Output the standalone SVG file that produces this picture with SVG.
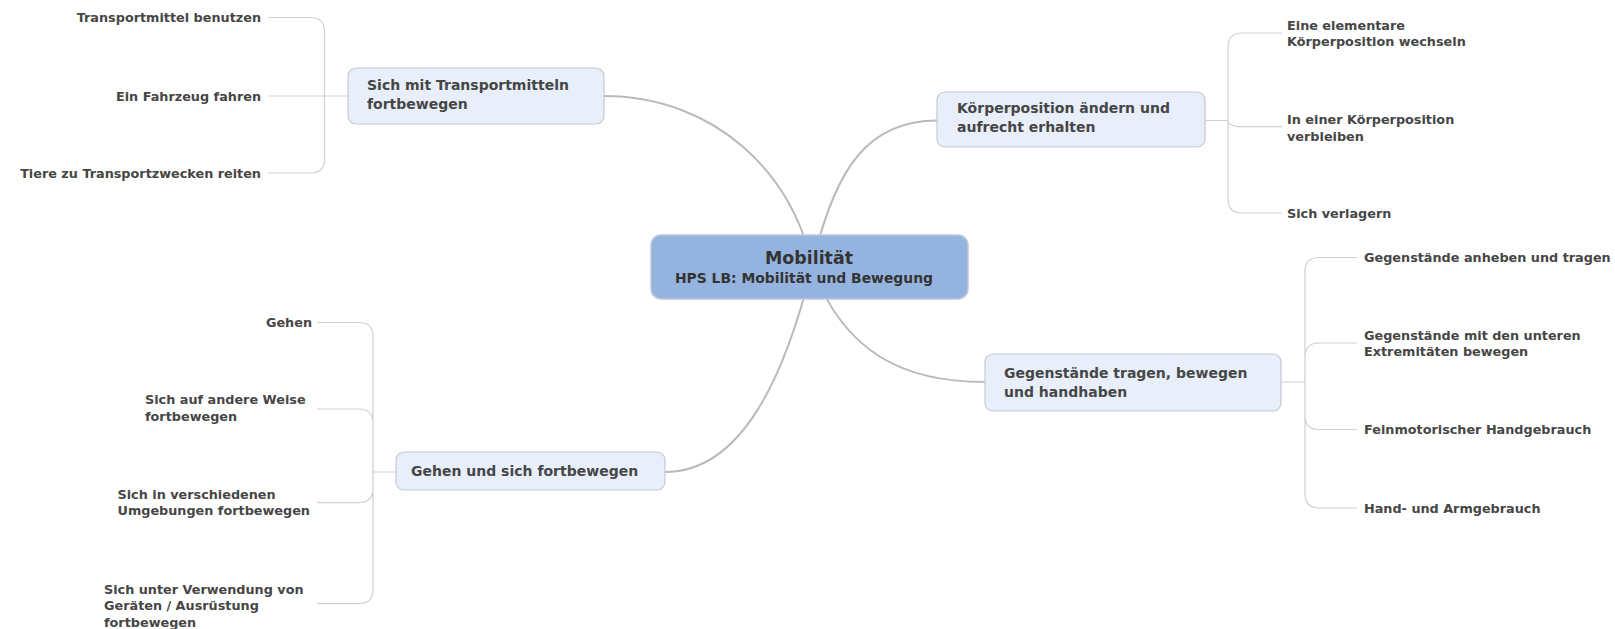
<svg xmlns="http://www.w3.org/2000/svg" width="1615" height="629" viewBox="0 0 1615 629">
<style>
text{font-family:"DejaVu Sans","Liberation Sans",sans-serif;font-weight:bold;fill:#464646;}
.sub{font-size:12.8px;}
.topic{font-size:14px;}
.r{text-anchor:end;}
.main{fill:none;stroke:#bababa;stroke-width:2;}
.br{fill:none;stroke:#d0d0d0;stroke-width:1.2;}
.tb{fill:#e8effb;stroke:#c3c9d3;stroke-width:1.2;}
.cb{fill:#95b3df;stroke:#bcc8da;stroke-width:1.5;}
</style>
<rect width="1615" height="629" fill="#fff"/>
<g id="connectors">
<path class="main" d="M812,267 C795,175 715,96 604,96"/>
<path class="main" d="M812,267 C835,165 870,120.5 937,120.5"/>
<path class="main" d="M812,267 C845,355 906,382 985,382"/>
<path class="main" d="M812,267 C785,376 742,472 665,472"/>
<path class="br" d="M348,96 H324.5 M324.5,96 V31.5 Q324.5,17.5 310.5,17.5 H268 M324.5,96 H268 M324.5,96 V159 Q324.5,173 310.5,173 H268"/>
<path class="br" d="M1205,120.5 H1228 M1228,120.5 V47 Q1228,33 1242,33 H1282 M1228,120.5 Q1228,126.7 1242,126.7 H1282 M1228,120.5 V199 Q1228,213 1242,213 H1282"/>
<path class="br" d="M1281,382 H1305 M1305,382 V271.5 Q1305,257.5 1319,257.5 H1357 M1305,382 V357 Q1305,343 1319,343 H1357 M1305,382 V415.5 Q1305,429.5 1319,429.5 H1357 M1305,382 V494 Q1305,508 1319,508 H1357"/>
<path class="br" d="M396,472 H373 M373,472 V336.5 Q373,322.5 359,322.5 H317 M373,472 V423 Q373,409 359,409 H317 M373,472 V488.6 Q373,502.6 359,502.6 H317 M373,472 V589.6 Q373,603.6 359,603.6 H317"/>
</g>
<g id="center">
<rect class="cb" x="651" y="235" width="317" height="64" rx="10"/>
<text x="809" y="264" text-anchor="middle" style="font-size:17.4px;fill:#333">Mobilität</text>
<text x="804" y="283" text-anchor="middle" style="font-size:13.9px;fill:#333">HPS LB: Mobilität und Bewegung</text>
</g>
<g id="t1">
<rect class="tb" x="348" y="68" width="256" height="56" rx="8"/>
<text class="topic" x="367" y="90">Sich mit Transportmitteln</text>
<text class="topic" x="367" y="109">fortbewegen</text>
</g>
<g id="t2">
<rect class="tb" x="937" y="92" width="268" height="55" rx="8"/>
<text class="topic" x="957" y="113">Körperposition ändern und</text>
<text class="topic" x="957" y="132">aufrecht erhalten</text>
</g>
<g id="t3">
<rect class="tb" x="985" y="354" width="296" height="57" rx="8"/>
<text class="topic" x="1004" y="378">Gegenstände tragen, bewegen</text>
<text class="topic" x="1004" y="397">und handhaben</text>
</g>
<g id="t4">
<rect class="tb" x="396" y="452" width="269" height="38" rx="8"/>
<text class="topic" x="411" y="476">Gehen und sich fortbewegen</text>
</g>
<g id="s1a"><text class="sub r" x="261" y="22">Transportmittel benutzen</text></g>
<g id="s1b"><text class="sub r" x="261" y="100.5">Ein Fahrzeug fahren</text></g>
<g id="s1c"><text class="sub r" x="261" y="177.5">Tiere zu Transportzwecken reiten</text></g>
<g id="s2a"><text class="sub" x="1287" y="29.5">Eine elementare</text><text class="sub" x="1287" y="46">Körperposition wechseln</text></g>
<g id="s2b"><text class="sub" x="1287" y="124">In einer Körperposition</text><text class="sub" x="1287" y="140.5">verbleiben</text></g>
<g id="s2c"><text class="sub" x="1287" y="218">Sich verlagern</text></g>
<g id="s3a"><text class="sub" x="1364" y="262">Gegenstände anheben und tragen</text></g>
<g id="s3b"><text class="sub" x="1364" y="339.5">Gegenstände mit den unteren</text><text class="sub" x="1364" y="356">Extremitäten bewegen</text></g>
<g id="s3c"><text class="sub" x="1364" y="434">Feinmotorischer Handgebrauch</text></g>
<g id="s3d"><text class="sub" x="1364" y="512.5">Hand- und Armgebrauch</text></g>
<g id="s4a"><text class="sub r" x="312" y="327">Gehen</text></g>
<g id="s4b"><text class="sub" x="145" y="404">Sich auf andere Weise</text><text class="sub" x="145" y="420.5">fortbewegen</text></g>
<g id="s4c"><text class="sub" x="117.5" y="498.5">Sich in verschiedenen</text><text class="sub" x="117.5" y="515">Umgebungen fortbewegen</text></g>
<g id="s4d"><text class="sub" x="104" y="593.5">Sich unter Verwendung von</text><text class="sub" x="104" y="610">Geräten / Ausrüstung</text><text class="sub" x="104" y="626.5">fortbewegen</text></g>
</svg>
